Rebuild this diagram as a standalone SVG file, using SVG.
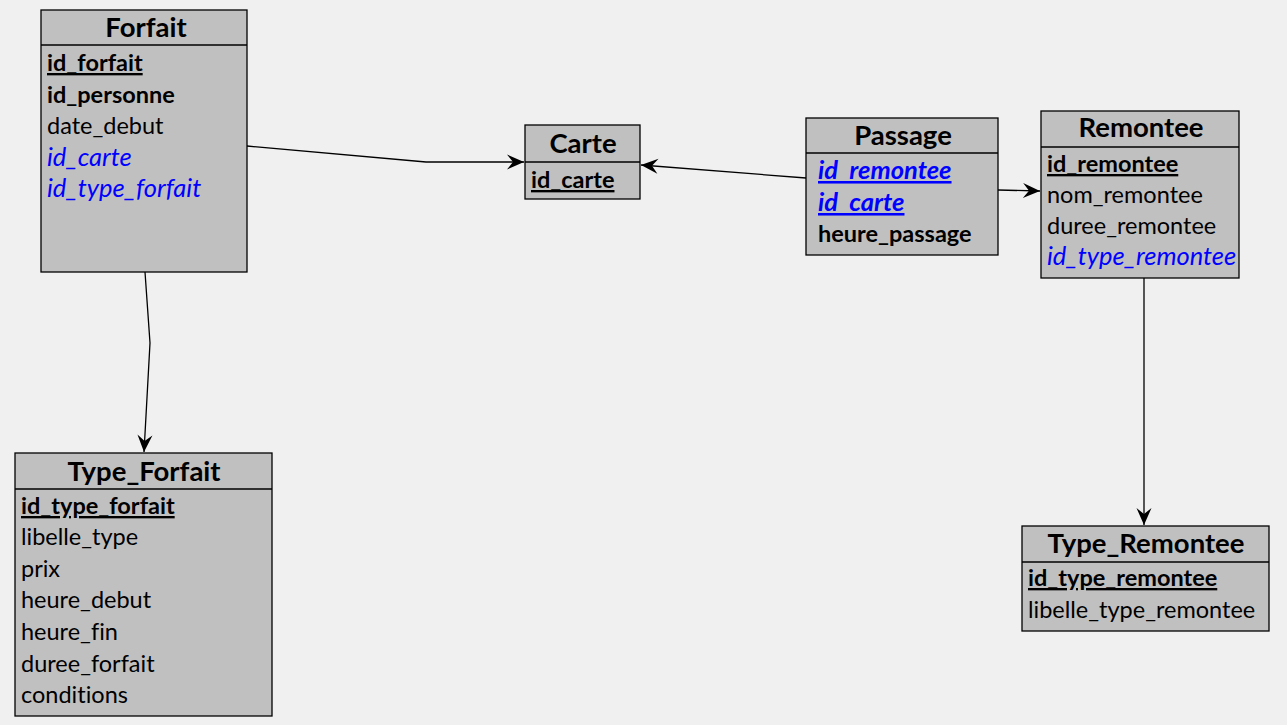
<svg xmlns="http://www.w3.org/2000/svg" width="1287" height="725" viewBox="0 0 1287 725">
<style>
.bg{fill:#F0F0F0}
.box{fill:#C0C0C0;stroke:#000;stroke-width:1.3}
.sep{stroke:#000;stroke-width:1.3}
text{font-variant-ligatures:none}
.title{font-family:Lato,"Liberation Sans",sans-serif;font-weight:bold;font-size:27.5px;fill:#000;text-anchor:middle}
.row{font-family:Lato,"Liberation Sans",sans-serif;font-size:23.5px;fill:#000}
.pk{font-weight:bold;text-decoration:underline}
.b{font-weight:bold}
.fk{fill:#0000FF;font-style:italic;font-size:25.5px}
.conn{fill:none;stroke:#000;stroke-width:1.3}
</style>
<defs>
<marker id="arr" markerUnits="userSpaceOnUse" markerWidth="20" markerHeight="18" viewBox="-18 -9 20 18" refX="0" refY="0" orient="auto">
<path d="M0,0 L-17,-7.5 L-11,0 L-17,7.5 Z" fill="#000"/>
</marker>
</defs>
<rect class="bg" x="0" y="0" width="1287" height="725"/>

<g id="connectors">
<polyline class="conn" points="247,146 426,162 524,162" marker-end="url(#arr)"/>
<polyline class="conn" points="806,178 641,165" marker-end="url(#arr)"/>
<polyline class="conn" points="998,190 1040,191" marker-end="url(#arr)"/>
<polyline class="conn" points="145,272 150,343 144,452" marker-end="url(#arr)"/>
<polyline class="conn" points="1144,278 1144,525" marker-end="url(#arr)"/>
</g>

<g id="Forfait">
<rect class="box" x="41" y="10" width="206" height="262"/>
<line class="sep" x1="41" y1="45" x2="247" y2="45"/>
<text class="title" x="146" y="37">Forfait</text>
<text class="row pk" x="47" y="71">id_forfait</text>
<text class="row b" x="47" y="103">id_personne</text>
<text class="row" x="47" y="134">date_debut</text>
<text class="row fk" x="47" y="166">id_carte</text>
<text class="row fk" x="47" y="197">id_type_forfait</text>
</g>

<g id="Carte">
<rect class="box" x="525" y="125" width="115" height="74"/>
<line class="sep" x1="525" y1="162" x2="640" y2="162"/>
<text class="title" x="583" y="153">Carte</text>
<text class="row pk" x="531" y="188">id_carte</text>
</g>

<g id="Passage">
<rect class="box" x="806" y="118" width="192" height="137"/>
<line class="sep" x1="806" y1="153" x2="998" y2="153"/>
<text class="title" x="903" y="145">Passage</text>
<text class="row pk fk" x="818" y="179">id_remontee</text>
<text class="row pk fk" x="818" y="211">id_carte</text>
<text class="row b" x="818" y="242">heure_passage</text>
</g>

<g id="Remontee">
<rect class="box" x="1041" y="111" width="198" height="167"/>
<line class="sep" x1="1041" y1="147" x2="1239" y2="147"/>
<text class="title" x="1141" y="137">Remontee</text>
<text class="row pk" x="1047" y="172">id_remontee</text>
<text class="row" x="1047" y="203">nom_remontee</text>
<text class="row" x="1047" y="234">duree_remontee</text>
<text class="row fk" x="1047" y="265">id_type_remontee</text>
</g>

<g id="Type_Forfait">
<rect class="box" x="15" y="453" width="257" height="263"/>
<line class="sep" x1="15" y1="489" x2="272" y2="489"/>
<text class="title" x="144" y="481">Type_Forfait</text>
<text class="row pk" x="21" y="514">id_type_forfait</text>
<text class="row" x="21" y="545">libelle_type</text>
<text class="row" x="21" y="577">prix</text>
<text class="row" x="21" y="608">heure_debut</text>
<text class="row" x="21" y="640">heure_fin</text>
<text class="row" x="21" y="672">duree_forfait</text>
<text class="row" x="21" y="703">conditions</text>
</g>

<g id="Type_Remontee">
<rect class="box" x="1022" y="526" width="247" height="105"/>
<line class="sep" x1="1022" y1="562" x2="1269" y2="562"/>
<text class="title" x="1146" y="553">Type_Remontee</text>
<text class="row pk" x="1028" y="586">id_type_remontee</text>
<text class="row" x="1028" y="618">libelle_type_remontee</text>
</g>
</svg>
